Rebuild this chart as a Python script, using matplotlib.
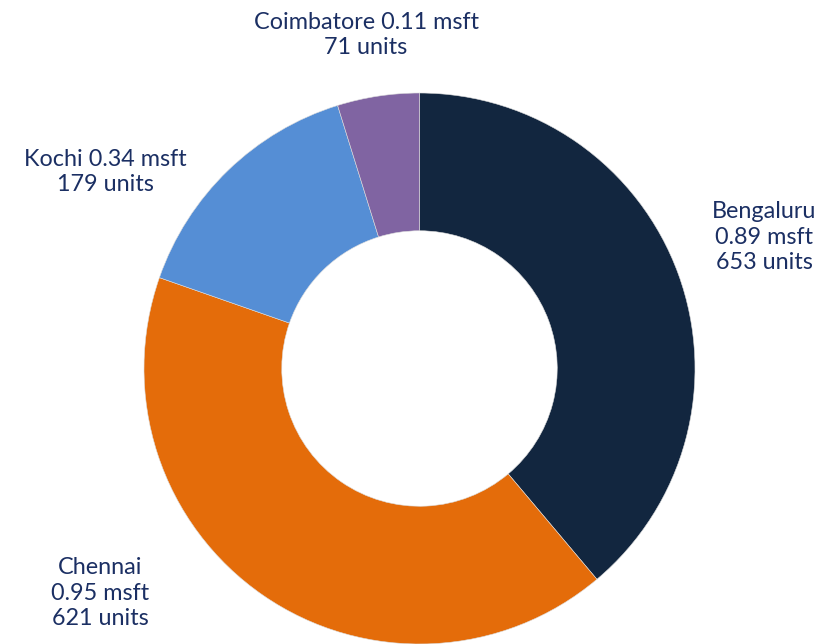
import matplotlib.pyplot as plt

cities = ['Bengaluru', 'Chennai', 'Kochi', 'Coimbatore']
msft = [0.89, 0.95, 0.34, 0.11]
units = [653, 621, 179, 71]
colors = ['#12263F', '#E46C0A', '#558ED5', '#8064A2']

text_color = '#1B2F63'
plt.rcParams['font.family'] = ['Lato', 'DejaVu Sans']

W, H = 825, 644
fig = plt.figure(figsize=(W / 100, H / 100), dpi=100)
ax = fig.add_axes([0, 0, 1, 1])

cx, cy, r = 419.5, H - 368.5, 275.5
ax.pie(msft, colors=colors, startangle=90, counterclock=False,
       center=(cx, cy), radius=r, frame=True,
       wedgeprops=dict(width=r * 0.5, edgecolor='#dddddd', linewidth=0.4))
ax.set_xlim(0, W)
ax.set_ylim(0, H)
ax.set_aspect('equal')
ax.axis('off')

# label blocks: (x, y from top, all on separate lines?)
label_pos = {
    'Bengaluru': (764, 237, True),
    'Chennai': (100, 593, True),
    'Kochi': (105, 172, False),
    'Coimbatore': (366, 35, False),
}
for city, m, u in zip(cities, msft, units):
    x, y, split = label_pos[city]
    if split:
        s = f'{city}\n{m:.2f} msft\n{u} units'
    else:
        s = f'{city} {m:.2f} msft\n{u} units'
    ax.text(x, H - y, s, ha='center', va='center', fontsize=16.8,
            color=text_color, linespacing=1.28)

fig.savefig('out.png', dpi=100)
